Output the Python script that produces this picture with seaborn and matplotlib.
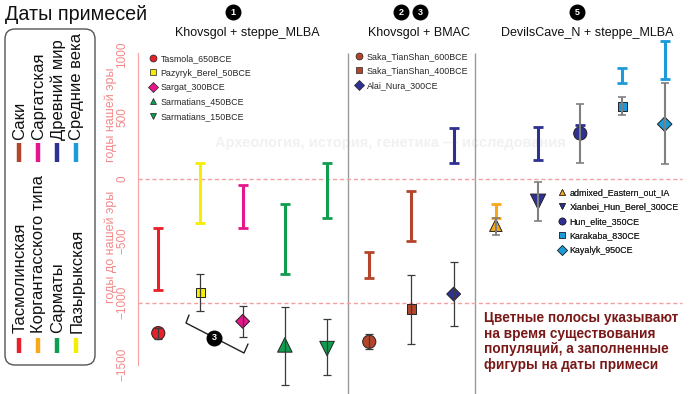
import numpy as np
import pandas as pd
import seaborn as sns
import matplotlib.pyplot as plt
from matplotlib.lines import Line2D
from matplotlib.patches import FancyBboxPatch

# --- data ---
samples = ["Tasmola_650BCE", "Pazyryk_Berel_50BCE", "Sargat_300BCE",
           "Sarmatians_450BCE", "Sarmatians_150BCE",
           "Saka_TianShan_600BCE", "Saka_TianShan_400BCE", "Alai_Nura_300CE",
           "admixed_Eastern_out_IA", "Xianbei_Hun_Berel_300CE", "Hun_elite_350CE",
           "Karakaba_830CE", "Kayalyk_950CE"]
cultures = ["Тасмолинская", "Пазырыкская", "Саргатская", "Сарматы", "Сарматы",
            "Саки", "Саки", "Древний мир",
            "Коргантасского типа", "Древний мир", "Древний мир",
            "Средние века", "Средние века"]
period_start = [-900, -355, -400, -770, -320, -800, -500, 130, -320, 150, 380, 770, 805]
period_end = [-400, 125, -50, -200, 130, -590, -100, 410, -200, 420, 430, 895, 1110]
admix_date = [-1245, -920, -1150, -1340, -1370, -1315, -1050, -930, -375, -185, 365, 585, 440]
admix_low = [-1290, -1070, -1275, -1665, -1580, -1375, -1330, -1190, -455, -340, 125, 515, 115]
admix_high = [-1200, -770, -1030, -1035, -1130, -1250, -775, -670, -315, -25, 600, 660, 775]

panel_titles = ["Khovsgol + steppe_MLBA", "Khovsgol + BMAC", "DevilsCave_N + steppe_MLBA"]
panel_sizes = [5, 3, 5]
legend_row1 = ["Тасмолинская", "Коргантасского типа", "Сарматы", "Пазырыкская"]
legend_row2 = ["Саки", "Саргатская", "Древний мир", "Средние века"]
y_ticks = [1000, 500, 0, -500, -1000, -1500]
y_tick_labels = ["1000", "500", "0", "−500", "−1000", "−1500"]
title = "Даты примесей"
note = ("Цветные полосы указывают\nна время существования\n"
        "популяций, а заполненные\nфигуры на даты примеси")
watermark = "Археология, история, генетика — исследования"

# --- styles ---
culture_colors = {
    "Тасмолинская": "#e8202a", "Коргантасского типа": "#f7a91c",
    "Сарматы": "#0f9d50", "Пазырыкская": "#f6ee00",
    "Саки": "#b4452b", "Саргатская": "#e6168b",
    "Древний мир": "#2e3192", "Средние века": "#1b9bd8",
}
sample_markers = ["o", "s", "D", "^", "v", "o", "s", "D", "^", "v", "o", "s", "D"]
sample_sizes = [90, 45, 50, 110, 110, 90, 45, 50, 80, 120, 90, 45, 55]
pink = "#f28a8a"

sns.set_style("white")
plt.rcParams["font.family"] = ["Liberation Sans", "DejaVu Sans"]

df = pd.DataFrame({
    "sample": samples, "culture": cultures,
    "start": period_start, "end": period_end,
    "date": admix_date, "low": admix_low, "high": admix_high,
})
df["pos"] = np.arange(len(df))
df["color"] = df["culture"].map(culture_colors)

fig = plt.figure(figsize=(7, 3.94), dpi=100)

# overlay in pixel coordinates for annotations
ov = fig.add_axes([0, 0, 1, 1], zorder=0)
ov.set_xlim(0, 700)
ov.set_ylim(394, 0)
ov.axis("off")

ax = fig.add_axes([138 / 700, 0, 552 / 700, 358 / 394], zorder=1)
ax.set_facecolor("none")
ax.set_xlim(-0.48, 12.6)
ax.set_ylim(-1736, 1151)

# panel separators and reference lines
bounds = np.cumsum(panel_sizes)[:-1] - 0.5
ax.vlines(bounds, -1736, 1014, color="#9a9a9a", lw=1)
ax.hlines([0, -1000], -0.48, 12.4, colors="#f4a0a0", linestyles=(0, (3, 2)), lw=1)

# coloured period bars
for _, r in df.iterrows():
    mid = (r["start"] + r["end"]) / 2
    half = (r["end"] - r["start"]) / 2
    ax.errorbar(r["pos"], mid, yerr=half, fmt="none", ecolor=r["color"],
                elinewidth=2.2, capsize=3.9, capthick=2, zorder=2)

# admixture date markers
pal = dict(zip(df["sample"], df["color"]))
mk = dict(zip(df["sample"], sample_markers))
sz = dict(zip(df["sample"], sample_sizes))
sns.scatterplot(data=df, x="pos", y="date", hue="sample", style="sample", size="sample",
                palette=pal, markers=mk, sizes=sz, edgecolor="#222222", linewidth=0.7,
                legend=False, ax=ax, zorder=3)

# admixture date error bars
for _, r in df.iterrows():
    last_panel = r["pos"] >= sum(panel_sizes[:2])
    ax.errorbar(r["pos"], r["date"], yerr=[[r["date"] - r["low"]], [r["high"] - r["date"]]],
                fmt="none", ecolor="#808080" if last_panel else "#3a3a3a",
                elinewidth=1.5 if last_panel else 0.9, capsize=3, capthick=1.2 if last_panel else 0.9,
                zorder=4)

# axis styling
for s in ["top", "right", "bottom"]:
    ax.spines[s].set_visible(False)
ax.spines["left"].set_color("#f4a3a3")
ax.spines["left"].set_bounds(-1500, 1012)
ax.set_xticks([])
ax.set_yticks(y_ticks)
ax.set_yticklabels(y_tick_labels, rotation=90, va="center")
ax.tick_params(axis="y", colors="#f4a3a3", labelcolor=pink, labelsize=8.5, length=4, pad=3)
ax.set_xlabel("")
ax.set_ylabel("")

# per-panel sample legends
legend_anchor = [(149, 54), (355, 52), (558, 188)]
start = 0
for k, n in enumerate(panel_sizes):
    sub = df.iloc[start:start + n]
    handles = [Line2D([], [], linestyle="none", marker=sample_markers[i], color=sub["color"].iloc[i - start],
                      markeredgecolor="#222222", markeredgewidth=0.5, markersize=5)
               for i in range(start, start + n)]
    x0, y0 = legend_anchor[k]
    leg = ax.legend(handles, list(sub["sample"]), loc="upper left",
                    bbox_to_anchor=(x0 / 700, 1 - y0 / 394), bbox_transform=fig.transFigure,
                    frameon=False, fontsize=6.4, handlelength=0.8, handletextpad=0.5,
                    labelspacing=0.62, borderpad=0, borderaxespad=0)
    ax.add_artist(leg)
    start += n

# panel titles and badges
title_x = [247, 419, 587]
for t, x in zip(panel_titles, title_x):
    ov.text(x, 33, t, ha="center", va="center", fontsize=9, color="#111111")
for x, lab in [(233, "1"), (401, "2"), (420, "3"), (577, "5"), (214, "3")]:
    y = 338 if x == 214 else 12
    ov.scatter([x], [y], s=110, color="black", zorder=5)
    ov.text(x, y, lab, color="white", fontsize=6.5, fontweight="bold",
            ha="center", va="center", zorder=6)
ov.plot([189, 186, 244, 248], [315, 323, 353, 344], color="#222222", lw=1)

# y axis labels
ov.text(111, 247, "годы до нашей эры", rotation=90, ha="center", va="center",
        fontsize=9, color=pink)
ov.text(111, 115, "годы нашей эры", rotation=90, ha="center", va="center",
        fontsize=9, color=pink)

# main title and watermark
ov.text(5, 14, title, fontsize=14.2, va="center", ha="left", color="#111111")
ov.text(390, 143, watermark, fontsize=10.5, fontweight="bold", color="#f1f1f1",
        ha="center", va="center")

# rotated culture legend
ov.add_patch(FancyBboxPatch((5, 29), 90, 336, boxstyle="round,pad=0,rounding_size=10",
                            fc="white", ec="#555555", lw=1))
col_x = [19, 38, 57, 76]
for x, n1, n2 in zip(col_x, legend_row1, legend_row2):
    ov.plot([x, x], [338, 353], color=culture_colors[n1], lw=3.2, solid_capstyle="butt")
    ov.text(x + 1, 333, n1, rotation=90, ha="center", va="bottom", fontsize=12, color="#111111")
    ov.plot([x, x], [143, 162], color=culture_colors[n2], lw=3.2, solid_capstyle="butt")
    ov.text(x + 1, 140, n2, rotation=90, ha="center", va="bottom", fontsize=12, color="#111111")

# note
ov.text(484, 311, note, color="#7a1818", fontsize=9.8, fontweight="bold",
        ha="left", va="top", linespacing=1.15)

fig.savefig("out.png", dpi=100)
